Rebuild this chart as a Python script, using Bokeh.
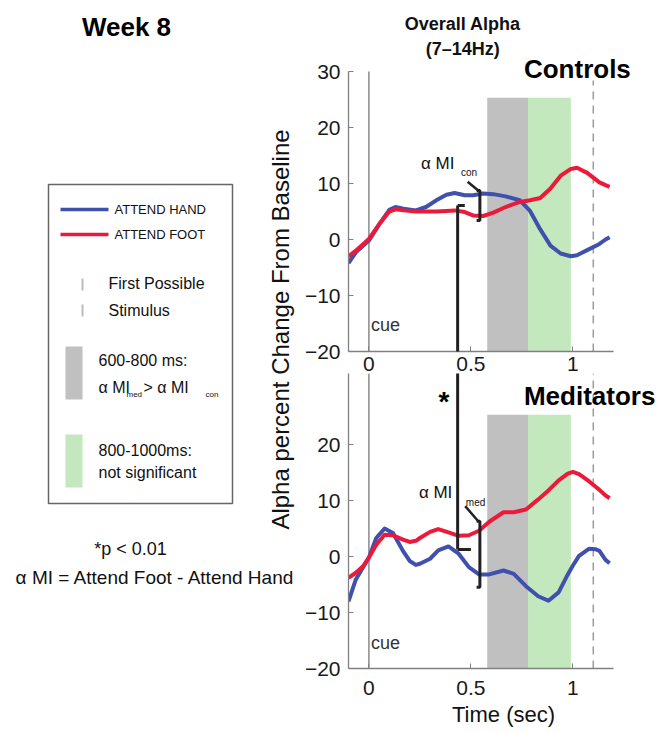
import math
from bokeh.plotting import figure
from bokeh.layouts import row, column
from bokeh.models import Range1d, FixedTicker, Label, Arrow
from bokeh.embed import file_html
from bokeh.resources import INLINE

# ---------------- data ----------------
T_CON = [-0.1, -0.064, 0.0, 0.052, 0.10, 0.13, 0.17, 0.23, 0.28, 0.33, 0.38, 0.42, 0.47, 0.51,
         0.56, 0.61, 0.67, 0.74, 0.79, 0.84, 0.89, 0.94, 0.99, 1.02, 1.07, 1.13, 1.16, 1.18]
HAND_CON = [-4.2, -2.3, -0.2, 2.8, 5.3, 5.8, 5.5, 5.2, 5.8, 7.0, 8.0, 8.3, 7.9, 7.9,
            8.2, 8.1, 7.7, 7.0, 5.1, 1.8, -1.1, -2.5, -3.0, -2.8, -1.9, -0.8, 0.0, 0.4]
FOOT_CON = [-3.0, -2.0, 0.1, 2.8, 5.0, 5.4, 5.2, 5.0, 5.0, 5.0, 5.1, 5.2, 4.9, 4.3,
            4.2, 4.8, 5.8, 6.7, 7.0, 7.4, 9.1, 11.4, 12.6, 12.8, 11.9, 10.2, 9.7, 9.4]

T_MED = [-0.1, -0.064, -0.03, 0.0, 0.036, 0.077, 0.118, 0.167, 0.2, 0.23, 0.25, 0.30, 0.34, 0.39,
         0.44, 0.49, 0.54, 0.59, 0.66, 0.71, 0.77, 0.83, 0.88, 0.93, 0.975, 1.0, 1.03, 1.08,
         1.11, 1.13, 1.16, 1.18]
HAND_MED = [-8.0, -4.1, -2.0, -0.2, 3.3, 5.0, 4.2, 1.0, -0.8, -1.5, -1.3, -0.4, 1.1, 1.8,
            0.5, -1.9, -3.2, -3.2, -2.5, -3.1, -5.3, -7.1, -7.9, -6.4, -3.2, -1.6, 0.1, 1.4,
            1.3, 1.0, -0.6, -1.2]
FOOT_MED = [-3.8, -2.9, -1.8, -0.2, 2.1, 3.9, 3.8, 3.0, 2.6, 2.8, 3.3, 4.4, 4.9, 4.3,
            3.7, 3.8, 4.6, 6.2, 7.9, 7.9, 8.4, 10.2, 11.8, 13.6, 14.8, 15.1, 14.7, 13.4,
            12.5, 11.9, 10.9, 10.4]

CUE_T = 0.0
STIM_T = 1.1
SIG_WINDOW = (0.58, 0.78)      # grey: 600-800 ms
NS_WINDOW = (0.78, 0.99)       # green: 800-1000 ms
SHADE_TOP = 25.3

X_TICKS = [0, 0.5, 1]
X_TICK_LABELS = ["0", "0.5", "1"]
Y_TICKS_TOP = [-20, -10, 0, 10, 20, 30]
Y_TICK_LABELS_TOP = ["\u221220", "\u221210", "0", "10", "20", "30"]
Y_TICKS_BOT = [-20, -10, 0, 10, 20]
Y_TICK_LABELS_BOT = ["\u221220", "\u221210", "0", "10", "20"]

# modulation-index brackets (time, value)
MI_CON_TOP_T, MI_CON_TOP_V = [0.435, 0.47], [6.07, 6.07]
MI_LINK_T = 0.435
MI_CON_BR_T, MI_CON_BR_V = [0.528, 0.544, 0.544, 0.528], [8.75, 8.75, 3.4, 3.4]
MI_CON_DIAG_T, MI_CON_DIAG_V = [0.484, 0.536], [10.3, 8.75]
MI_MED_BOT_T, MI_MED_BOT_V = [0.435, 0.5], [1.25, 1.25]
MI_MED_BR_T, MI_MED_BR_V = [0.528, 0.544, 0.544, 0.528], [6.3, 6.3, -5.5, -5.5]
MI_MED_DIAG_T, MI_MED_DIAG_V = [0.472, 0.536], [9.0, 6.3]

LEGEND_LINE_LABELS = ["ATTEND HAND", "ATTEND FOOT"]
LEGEND_STIM_LABELS = ["First Possible", "Stimulus"]
LEGEND_SIG_LABEL = "600-800 ms:"
LEGEND_NS_LABELS = ["800-1000ms:", "not significant"]

# ---------------- style ----------------
FONT = "Liberation Sans"
BLUE = "#4050ad"
RED = "#ec1a3a"
GREY_SHADE = "#c0c0c0"
GREEN_SHADE = "#c4e8bd"
INK = "#222222"
AXIS_GREY = "#808080"
PXU = 5.6  # pixels per percent unit


def style_axes(p):
    for ax in p.axis:
        ax.axis_line_color = AXIS_GREY
        ax.axis_line_width = 1.3
        ax.major_tick_line_color = AXIS_GREY
        ax.major_tick_in = 5
        ax.major_tick_out = 0
        ax.minor_tick_line_color = None
        ax.major_label_text_font = FONT
        ax.major_label_text_font_size = "21px"
        ax.major_label_text_color = "#1a1a1a"
    p.yaxis.major_label_standoff = 8
    p.grid.visible = False
    p.outline_line_color = None


def add_label(p, x, y, text, size, align="left", style="normal", color="#111111", angle=0):
    p.add_layout(Label(x=x, y=y, text=text, text_font=FONT, text_font_size=size,
                       text_font_style=style, text_align=align, text_baseline="middle",
                       text_color=color, angle=angle))


def panel_common(p, t, hand, foot, y_top_line, stim_top):
    for (a, b), col in ((SIG_WINDOW, GREY_SHADE), (NS_WINDOW, GREEN_SHADE)):
        p.quad(left=[a], right=[b], bottom=[-20], top=[SHADE_TOP], fill_color=col, line_color=None)
    p.segment(x0=[CUE_T], y0=[-20], x1=[CUE_T], y1=[y_top_line], line_color="#8a8a8a", line_width=1.5)
    p.segment(x0=[STIM_T], y0=[-20], x1=[STIM_T], y1=[stim_top], line_color="#9a9a9a",
              line_width=1.5, line_dash="8 6")
    p.line(t, hand, line_color=BLUE, line_width=4, line_join="round")
    p.line(t, foot, line_color=RED, line_width=4, line_join="round")


LEFT_W = 298
FRAME_W = 310
X0 = 348 - LEFT_W  # left border of right panels
x_end = -0.1 + FRAME_W / 204.0

# ---------------- top panel (Controls) ----------------
top_h = 342
top = figure(frame_width=FRAME_W, frame_height=top_h, x_range=Range1d(-0.1, x_end),
             y_range=Range1d(-20, -20 + top_h / PXU), output_backend="svg", toolbar_location=None,
             min_border_left=X0, min_border_right=0, min_border_top=9, min_border_bottom=0)
panel_common(top, T_CON, HAND_CON, FOOT_CON, 30, 28.4)
top.yaxis.ticker = FixedTicker(ticks=Y_TICKS_TOP)
top.yaxis.major_label_overrides = dict(zip(Y_TICKS_TOP, Y_TICK_LABELS_TOP))
top.yaxis.bounds = (-20, 30)
top.xaxis.ticker = FixedTicker(ticks=X_TICKS)
top.xaxis.major_label_overrides = dict(zip(X_TICKS, X_TICK_LABELS))
top.xaxis.bounds = (-0.1, 1.2)
style_axes(top)
top.xaxis.major_label_standoff = 5

top.line(MI_CON_TOP_T, MI_CON_TOP_V, line_color=INK, line_width=3)
top.line(MI_CON_BR_T, MI_CON_BR_V, line_color=INK, line_width=3)
top.line(MI_CON_DIAG_T, MI_CON_DIAG_V, line_color=INK, line_width=2.5)
top.add_layout(Arrow(end=None, start=None, x_start=MI_LINK_T, y_start=MI_CON_TOP_V[0],
                     x_end=MI_LINK_T, y_end=-30, line_color=INK, line_width=3))

add_label(top, 0.46, 38.4, "Overall Alpha", "18px", align="center", style="bold")
add_label(top, 0.46, 34.1, "(7\u201314Hz)", "18px", align="center", style="bold")
add_label(top, 0.76, 30.5, "Controls", "26px", style="bold", color="#000000")
add_label(top, 0.255, 13.6, "\u03b1 MI", "17px")
add_label(top, 0.451, 12.0, "con", "10px")
add_label(top, 0.01, -15.2, "cue", "18px", color="#333333")

# ---------------- bottom panel (Meditators) ----------------
bot_h = 295
bot_top = -20 + bot_h / PXU
bot = figure(frame_width=FRAME_W, frame_height=bot_h, x_range=Range1d(-0.1, x_end),
             y_range=Range1d(-20, bot_top), output_backend="svg", toolbar_location=None,
             min_border_left=X0, min_border_right=0, min_border_top=0, min_border_bottom=0)
panel_common(bot, T_MED, HAND_MED, FOOT_MED, bot_top, bot_top)
bot.yaxis.ticker = FixedTicker(ticks=Y_TICKS_BOT)
bot.yaxis.major_label_overrides = dict(zip(Y_TICKS_BOT, Y_TICK_LABELS_BOT))
bot.xaxis.ticker = FixedTicker(ticks=X_TICKS)
bot.xaxis.major_label_overrides = dict(zip(X_TICKS, X_TICK_LABELS))
bot.xaxis.bounds = (-0.1, 1.2)
bot.xaxis.axis_label = "Time (sec)"
style_axes(bot)
bot.xaxis.major_label_standoff = 12
bot.xaxis.axis_label_text_font = FONT
bot.xaxis.axis_label_text_font_size = "22px"
bot.xaxis.axis_label_text_font_style = "normal"
bot.xaxis.axis_label_text_color = "#111111"
bot.xaxis.axis_label_standoff = 4

bot.line(MI_MED_BOT_T, MI_MED_BOT_V, line_color=INK, line_width=3)
bot.line(MI_MED_BR_T, MI_MED_BR_V, line_color=INK, line_width=3)
bot.line(MI_MED_DIAG_T, MI_MED_DIAG_V, line_color=INK, line_width=2.5)
bot.add_layout(Arrow(end=None, start=None, x_start=MI_LINK_T, y_start=MI_MED_BOT_V[0],
                     x_end=MI_LINK_T, y_end=bot_top + 10, line_color=INK, line_width=3))

add_label(bot, 0.76, 28.6, "Meditators", "26px", style="bold", color="#000000")
add_label(bot, 0.368, 27.6, "*", "28px", align="center", style="bold", color="#000000")
add_label(bot, 0.245, 11.4, "\u03b1 MI", "17px")
add_label(bot, 0.475, 9.6, "med", "10px")
add_label(bot, 0.01, -15.4, "cue", "18px", color="#333333")

# ---------------- left panel: title, legend, notes ----------------
LH = 728
left = figure(frame_width=LEFT_W, frame_height=LH, x_range=Range1d(0, LEFT_W), y_range=Range1d(LH, 0),
              x_axis_location=None, y_axis_location=None, min_border=0,
              output_backend="svg", toolbar_location=None)
left.grid.visible = False
left.outline_line_color = None

add_label(left, 126, 26, "Week 8", "26px", align="center", style="bold", color="#000000")

left.quad(left=[48], right=[232], top=[184], bottom=[503], fill_color=None,
          line_color="#666666", line_width=1.5)
for lbl, col, yy in zip(LEGEND_LINE_LABELS, [BLUE, RED], [209, 234]):
    left.segment(x0=[60], y0=[yy], x1=[108], y1=[yy], line_color=col, line_width=3.5)
    add_label(left, 114, yy, lbl, "13px", color="#111111")
left.segment(x0=[82, 82], y0=[278, 304], x1=[82, 82], y1=[290, 316], line_color="#bbbbbb", line_width=2)
for lbl, yy in zip(LEGEND_STIM_LABELS, [283, 310]):
    add_label(left, 108, yy, lbl, "16px", color="#111111")
left.quad(left=[65], right=[82], top=[346], bottom=[399], fill_color=GREY_SHADE, line_color=None)
add_label(left, 98, 360, LEGEND_SIG_LABEL, "16px", color="#111111")
add_label(left, 98, 387, "\u03b1 MI", "16px", color="#111111")
add_label(left, 126, 394, "med", "8px", color="#111111")
add_label(left, 143, 387, "> \u03b1 MI", "16px", color="#111111")
add_label(left, 205, 394, "con", "8px", color="#111111")
left.quad(left=[65], right=[82], top=[434], bottom=[487], fill_color=GREEN_SHADE, line_color=None)
for lbl, yy in zip(LEGEND_NS_LABELS, [450, 472]):
    add_label(left, 98, yy, lbl, "16px", color="#111111")

add_label(left, 130, 548, "*p < 0.01", "18px", align="center", color="#111111")
add_label(left, 155, 577, "\u03b1 MI = Attend Foot - Attend Hand", "19px", align="center", color="#111111")
add_label(left, 280, 329, "Alpha percent Change From Baseline", "24px", align="center",
          color="#111111", angle=math.pi / 2)

p = row(left, column(top, bot))
open("out.html", "w").write(file_html(p, INLINE))
